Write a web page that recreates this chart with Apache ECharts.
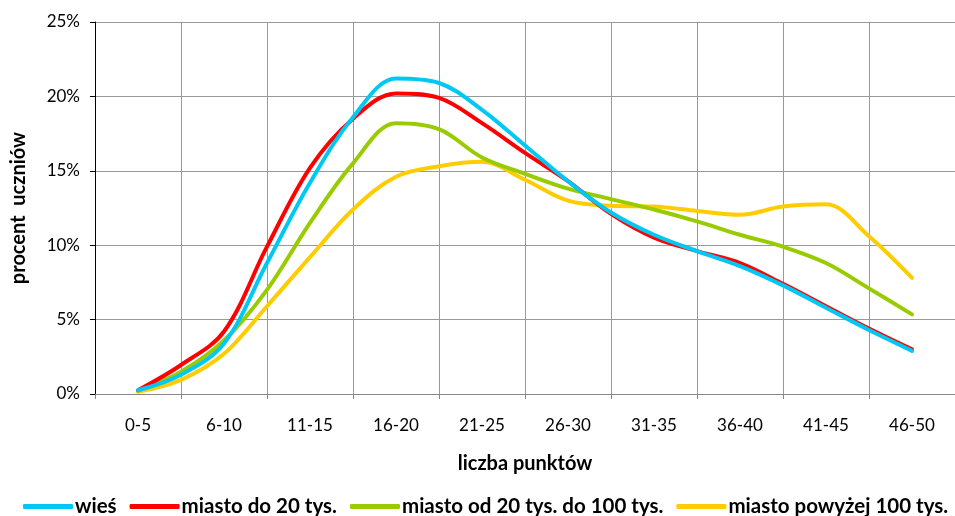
<!DOCTYPE html>
<html>
<head>
<meta charset="utf-8">
<script src="https://cdn.jsdelivr.net/npm/echarts@6/dist/echarts.min.js"></script>
<style>
  html, body { margin: 0; padding: 0; background: #fff; }
  #chart { width: 955px; height: 516px; }
</style>
</head>
<body>
<div id="chart"></div>
<script>
// categories on the visible axis
var categories = ['0-5', '6-10', '11-15', '16-20', '21-25', '26-30', '31-35', '36-40', '41-45', '46-50']
// positions in category units (half steps) where values were read
var xPos = [0, 0.5, 1, 1.5, 2, 2.5, 3, 3.5, 4, 4.5, 5, 5.5, 6, 6.5, 7, 7.5, 8, 8.5, 9]

var wies = [0.25, 1.3, 3.4, 8.8, 14.2, 18.6, 21.2, 20.9, 19.1, 16.7, 14.3, 12.2, 10.7, 9.6, 8.6, 7.3, 5.8, 4.3, 2.9]
var miasto20 = [0.25, 1.95, 4.2, 9.9, 15.2, 18.5, 20.2, 19.9, 18.2, 16.2, 14.3, 12.1, 10.5, 9.6, 8.8, 7.4, 5.9, 4.4, 3.0]
var miasto100 = [0.25, 1.5, 3.6, 7.0, 11.5, 15.5, 18.2, 17.8, 15.9, 14.8, 13.8, 13.1, 12.4, 11.6, 10.7, 9.9, 8.8, 7.1, 5.35]
var miastoPow = [0.15, 0.95, 2.7, 5.9, 9.2, 12.4, 14.6, 15.3, 15.6, 14.4, 13.0, 12.65, 12.6, 12.3, 12.05, 12.6, 12.75, 10.6, 7.8]

var names = ['wieś', 'miasto do 20 tys.', 'miasto od 20 tys. do 100 tys.', 'miasto powyżej 100 tys.']
var colors = ['#00c8f5', '#ff0000', '#99cc00', '#ffcc00']

function pairs(vals) {
  return vals.map(function (v, i) { return [xPos[i], v] })
}

var chart = echarts.init(document.getElementById('chart'))

var font = 'Lato, "Open Sans", sans-serif'

var option = {
  animation: false,
  textStyle: { fontFamily: font },
  grid: { left: 95, top: 22, width: 865, height: 372, containLabel: false },
  legend: {
    top: 491,
    left: 18,
    width: 1100,
    icon: 'roundRect',
    itemWidth: 50,
    itemHeight: 5,
    itemGap: 13,
    textStyle: { fontFamily: font, fontSize: 20.5, fontWeight: 'bold', color: '#000', padding: [0, 0, 0, -3] },
    data: names
  },
  xAxis: [
    {
      type: 'category',
      data: categories,
      boundaryGap: true,
      name: 'liczba punktów',
      nameLocation: 'middle',
      nameGap: 60,
      nameTextStyle: { fontFamily: font, fontSize: 20, fontWeight: 'bold', color: '#000' },
      axisLine: { lineStyle: { color: '#888', width: 1 } },
      axisTick: { show: true, length: 5, lineStyle: { color: '#888' } },
      axisLabel: { color: '#000', fontSize: 17, margin: 23, fontFamily: font },
      splitLine: { show: true, lineStyle: { color: '#999', width: 1 } }
    },
    {
      type: 'value',
      min: -0.5,
      max: 9.5,
      show: false
    }
  ],
  yAxis: {
    type: 'value',
    min: 0,
    max: 25,
    interval: 5,
    name: 'procent  uczniów',
    nameLocation: 'middle',
    nameGap: 66,
    nameTextStyle: { fontFamily: font, fontSize: 20, fontWeight: 'bold', color: '#000' },
    axisLine: { show: true, onZero: false, lineStyle: { color: '#000', width: 1 } },
    axisTick: { show: true, length: 5, lineStyle: { color: '#000' } },
    axisLabel: { color: '#000', fontSize: 17, margin: 15, formatter: '{value}%', fontFamily: font },
    splitLine: { show: true, lineStyle: { color: '#999', width: 1 } }
  },
  series: [wies, miasto20, miasto100, miastoPow].map(function (vals, i) {
    return {
      name: names[i],
      type: 'line',
      xAxisIndex: 1,
      smooth: 0.35,
      showSymbol: false,
      symbol: 'none',
      color: colors[i],
      lineStyle: { width: 4, color: colors[i], cap: 'round' },
      data: pairs(vals),
      z: 10 - i
    }
  })
}

chart.setOption(option)
</script>
</body>
</html>
